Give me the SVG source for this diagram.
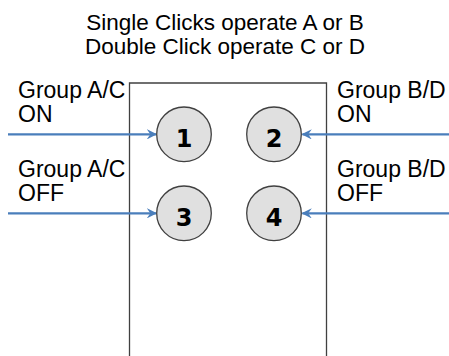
<svg xmlns="http://www.w3.org/2000/svg" width="449" height="356" viewBox="0 0 449 356">
<defs>
<style>
.t{font-family:"Liberation Sans",Arial,sans-serif;font-size:22.5px;fill:#000}
.l{font-family:"Liberation Sans",Arial,sans-serif;font-size:23px;fill:#000}
.n{font-family:"DejaVu Sans",sans-serif;font-weight:bold;font-size:24px;fill:#000;text-anchor:middle}
.c{fill:#e0e0e0;stroke:#404040;stroke-width:1.3}
.a{stroke:#4a7ebb;stroke-width:2.3;fill:none}
</style>
<marker id="ah" viewBox="0 0 10 10" refX="9" refY="5" markerWidth="4.5" markerHeight="4.5" orient="auto" markerUnits="strokeWidth">
<path d="M0,0 L10,5 L0,10 L3.5,5 Z" fill="#4a7ebb"/>
</marker>
</defs>
<rect width="449" height="356" fill="#fff"/>
<g id="title">
<text class="t" x="225" y="30" text-anchor="middle">Single Clicks operate A or B</text>
<text class="t" x="225" y="54" text-anchor="middle">Double Click operate C or D</text>
</g>
<g id="remote">
<path d="M129.5,360 V83 H326.5 V360" fill="none" stroke="#404040" stroke-width="1.3"/>
</g>
<g id="labels">
<text class="l" x="18" y="97.7">Group A/C</text>
<text class="l" x="18" y="121.7">ON</text>
<text class="l" x="18" y="176.5">Group A/C</text>
<text class="l" x="18" y="200.5">OFF</text>
<text class="l" x="337" y="97.7">Group B/D</text>
<text class="l" x="337" y="121.7">ON</text>
<text class="l" x="337" y="176.5">Group B/D</text>
<text class="l" x="337" y="200.5">OFF</text>
</g>
<g id="connectors">
<line class="a" x1="8" y1="134.3" x2="156" y2="134.3" marker-end="url(#ah)"/>
<line class="a" x1="8" y1="213.3" x2="156" y2="213.3" marker-end="url(#ah)"/>
<line class="a" x1="449" y1="134.3" x2="302.5" y2="134.3" marker-end="url(#ah)"/>
<line class="a" x1="449" y1="213.3" x2="302.5" y2="213.3" marker-end="url(#ah)"/>
</g>
<g id="btn1"><circle class="c" cx="184" cy="134.3" r="27.3"/><text class="n" x="184" y="146.5">1</text></g>
<g id="btn2"><circle class="c" cx="274" cy="134.3" r="27.3"/><text class="n" x="274" y="146.5">2</text></g>
<g id="btn3"><circle class="c" cx="184" cy="213.3" r="27.3"/><text class="n" x="184" y="225.5">3</text></g>
<g id="btn4"><circle class="c" cx="274" cy="213.3" r="27.3"/><text class="n" x="274" y="225.5">4</text></g>
</svg>
